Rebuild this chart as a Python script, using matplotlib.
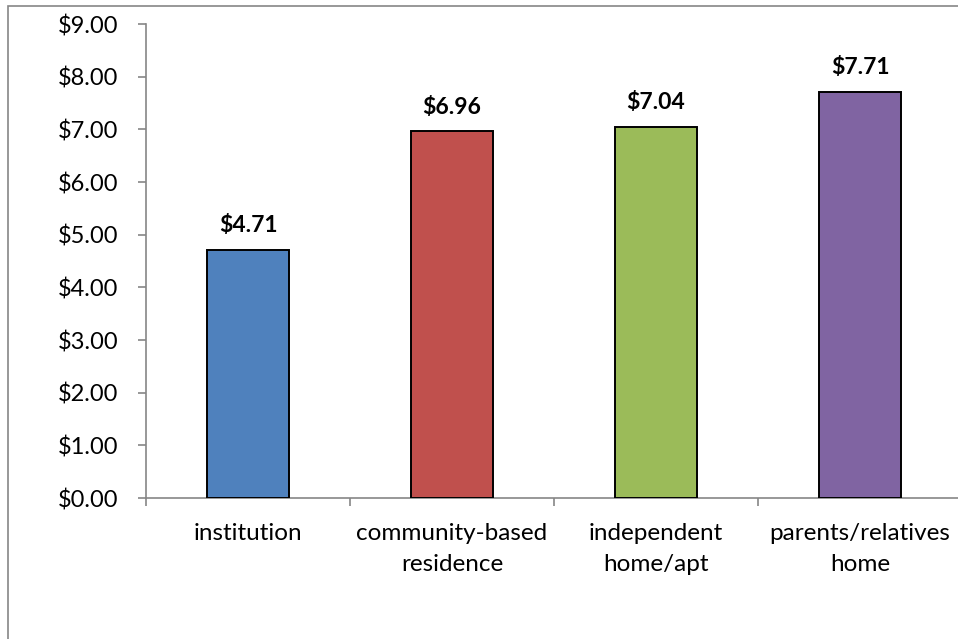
import matplotlib.pyplot as plt
from matplotlib.patches import Rectangle
from matplotlib.ticker import FixedLocator

# average hourly wage by living arrangement
categories = ["institution", "community-based\nresidence", "independent\nhome/apt", "parents/relatives\nhome"]
wages = [4.71, 6.96, 7.04, 7.71]
colors = ["#4F81BD", "#C0504D", "#9BBB59", "#8064A2"]
y_ticks = [0, 1, 2, 3, 4, 5, 6, 7, 8, 9]

plt.rcParams['font.family'] = ['Lato', 'DejaVu Sans']
axis_gray = "#868686"

fig = plt.figure(figsize=(9.58, 6.39), dpi=100)
ax = fig.add_axes([146 / 958, 1 - 498 / 639, 816 / 958, 474 / 639])

# chart-area frame (top and left edges show)
fig.patches.append(Rectangle((8 / 958, -0.1), 1.2, 1 - 6 / 639 + 0.1,
                             transform=fig.transFigure, fill=False,
                             edgecolor=axis_gray, linewidth=1.2))

x = range(len(categories))
ax.bar(x, wages, width=0.4, color=colors, edgecolor="black", linewidth=1.4, zorder=3)

for xi, v in zip(x, wages):
    ax.annotate(f"${v:.2f}", (xi, v), xytext=(0, 10), textcoords="offset points",
                ha="center", va="bottom", fontsize=16.5, fontweight="bold")

ax.set_xlim(-0.5, 3.5)
ax.set_ylim(0, 9)
ax.set_yticks(y_ticks)
ax.set_yticklabels([f"${t:.2f}" for t in y_ticks])

# category boundary ticks, labels centred under bars
ax.xaxis.set_major_locator(FixedLocator([-0.5, 0.5, 1.5, 2.5, 3.5]))
ax.set_xticklabels([])
ax.xaxis.set_minor_locator(FixedLocator(list(x)))
ax.set_xticklabels(categories, minor=True, fontsize=17.5, linespacing=1.6)
ax.tick_params(axis="x", which="minor", length=0, pad=18)
ax.tick_params(axis="x", which="major", length=6, color=axis_gray, width=1.2)
ax.tick_params(axis="y", length=6, color=axis_gray, width=1.2, labelsize=17, pad=14)

for side in ["top", "right"]:
    ax.spines[side].set_visible(False)
for side in ["left", "bottom"]:
    ax.spines[side].set_color(axis_gray)
    ax.spines[side].set_linewidth(1.2)

fig.savefig("out.png", dpi=100)
